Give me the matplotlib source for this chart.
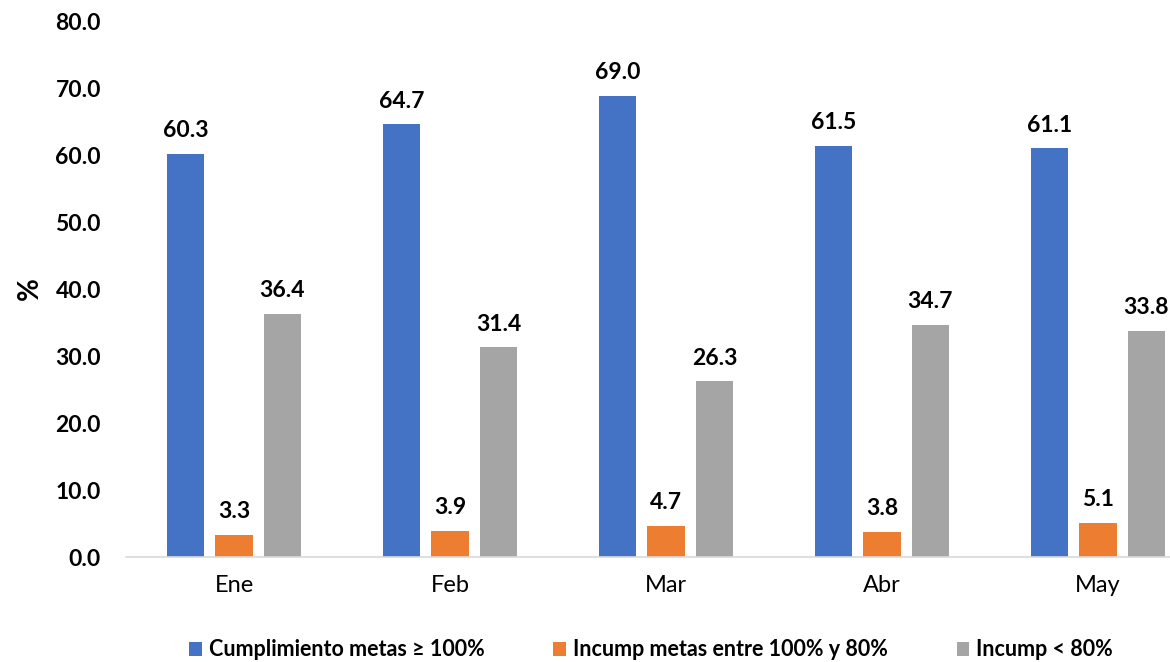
import numpy as np
import matplotlib.pyplot as plt

plt.rcParams['font.family'] = ['Lato', 'DejaVu Sans']

meses = ["Ene", "Feb", "Mar", "Abr", "May"]
cumplimiento = [60.3, 64.7, 69.0, 61.5, 61.1]
incump_100_80 = [3.3, 3.9, 4.7, 3.8, 5.1]
incump_80 = [36.4, 31.4, 26.3, 34.7, 33.8]

series = [
    ("Cumplimiento metas \u2265 100%", cumplimiento, "#4472C4"),
    ("Incump metas entre 100% y 80%", incump_100_80, "#ED7D31"),
    ("Incump < 80%", incump_80, "#A5A5A5"),
]

fig = plt.figure(figsize=(11.7, 6.62), dpi=100)
ax = fig.add_axes([126 / 1170, 1 - 557 / 662, (1206 - 126) / 1170, (557 - 22) / 662])

x = np.arange(len(meses))
width = 0.172
offset = 0.224
for i, (name, vals, color) in enumerate(series):
    pos = x + (i - 1) * offset
    ax.bar(pos, vals, width, color=color, label=name)
    for xp, v in zip(pos, vals):
        ax.annotate(f"{v:.1f}", (xp, v), xytext=(0, 9), textcoords="offset points",
                    ha="center", va="bottom", fontsize=16.5, fontweight="bold")

ax.set_xlim(-0.5, 4.5)
ax.set_ylim(0, 80)
ax.set_yticks(np.arange(0, 81, 10))
ax.set_yticklabels([f"{t:.1f}" for t in np.arange(0, 81, 10)], fontsize=16.5, fontweight="bold")
ax.set_xticks(x)
ax.set_xticklabels(meses, fontsize=17)
ax.tick_params(axis="both", length=0)
ax.tick_params(axis="y", pad=18)
ax.tick_params(axis="x", pad=13)
for s in ["top", "right", "left"]:
    ax.spines[s].set_visible(False)
ax.spines["bottom"].set_color("#D9D9D9")
ax.spines["bottom"].set_linewidth(1.2)

fig.text(30 / 1170, 1 - 289 / 662, "%", rotation=90, fontsize=20, fontweight="bold",
         ha="center", va="center")

fig.legend(loc="center", bbox_to_anchor=(651 / 1170, 1 - 650 / 662), ncol=3, frameon=False,
           prop={"size": 15.5, "weight": "bold"}, handlelength=0.6, handleheight=0.6,
           handletextpad=0.3, columnspacing=3.2)

fig.savefig("out.png", dpi=100)
